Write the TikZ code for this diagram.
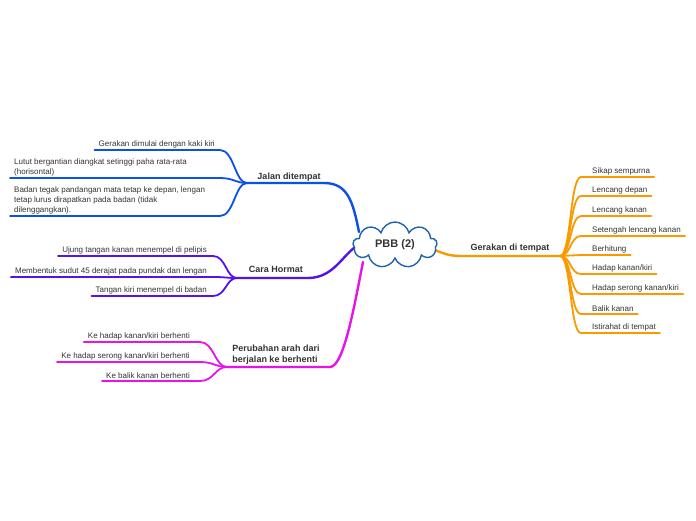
\documentclass[tikz,border=0pt]{standalone}
\usepackage{fontspec}
\setmainfont{Liberation Sans}
\usetikzlibrary{shapes.symbols,positioning}

\definecolor{teks}{HTML}{333333}
\definecolor{awan}{HTML}{1F63AA}
\definecolor{biru}{HTML}{0C50EA}
\definecolor{ungu}{HTML}{5612EC}
\definecolor{magenta}{HTML}{E614E6}
\definecolor{oranye}{HTML}{FA9A00}

\begin{document}
\begin{tikzpicture}[
    x=1pt, y=-1pt,
    pusat/.style={cloud, cloud puffs=9, aspect=2, draw=awan, line width=1.4pt, fill=white,
                  minimum width=84pt, minimum height=46pt, inner sep=0pt,
                  font=\bfseries\fontsize{11}{13}\selectfont, text=teks},
    topik/.style={font=\bfseries\fontsize{9}{11}\selectfont, text=teks, inner sep=0pt, align=left},
    butir/.style={font=\fontsize{8}{9.8}\selectfont, text=teks, inner xsep=4pt, inner ysep=2pt, align=left},
    cabang/.style={line width=2.4pt, line cap=round},
    ranting/.style={line width=1.8pt, line cap=round}
]
\useasboundingbox[fill=white] (0,0) rectangle (696,520);

% ---------- Jalan ditempat ----------
\coordinate (jhub) at (247,183);
\coordinate (jend) at (324,183);
\coordinate (jbend) at (220,183);
\coordinate (jawan) at (359,232);
\node[topik] (jalan) at (289,177.5) {Jalan ditempat};
\node[butir, anchor=south east] (j1) at (219,150) {Gerakan dimulai dengan kaki kiri};
\node[butir, anchor=south west] (j2) at (10,178) {Lutut bergantian diangkat setinggi paha rata-rata\\(horisontal)};
\node[butir, anchor=south west] (j3) at (10,216) {Badan tegak pandangan mata tetap ke depan, lengan\\tetap lurus dirapatkan pada badan (tidak\\dilenggangkan).};
\draw[cabang, biru] (jhub) -- (jend) .. controls +(24,0) and +(-6,-30) .. (jawan);
\draw[ranting, biru] (j1.south west) -- (jbend |- j1.south west) .. controls +(14,0) and +(-12,0) .. (jhub);
\draw[ranting, biru] (j2.south west) -- (jbend |- j2.south west) .. controls +(14,0) and +(-12,0) .. (jhub);
\draw[ranting, biru] (j3.south west) -- (jbend |- j3.south west) .. controls +(14,0) and +(-12,0) .. (jhub);

% ---------- Cara Hormat ----------
\coordinate (chub) at (237,278);
\coordinate (cend) at (308,278);
\coordinate (cbend) at (213,278);
\coordinate (cawan) at (357,246);
\node[topik] (hormat) at (276,269) {Cara Hormat};
\node[butir, anchor=south east] (c1) at (211,256) {Ujung tangan kanan menempel di pelipis};
\node[butir, anchor=south east] (c2) at (211,277) {Membentuk sudut 45 derajat pada pundak dan lengan};
\node[butir, anchor=south east] (c3) at (211,296) {Tangan kiri menempel di badan};
\draw[cabang, ungu] (chub) -- (cend) .. controls +(26,0) and +(-14,8) .. (cawan);
\draw[ranting, ungu] (c1.south west) -- (cbend |- c1.south west) .. controls +(13,0) and +(-11,0) .. (chub);
\draw[ranting, ungu] (c2.south west) -- (cbend |- c2.south west) .. controls +(13,0) and +(-11,0) .. (chub);
\draw[ranting, ungu] (c3.south west) -- (cbend |- c3.south west) .. controls +(13,0) and +(-11,0) .. (chub);

% ---------- Perubahan arah ----------
\coordinate (phub) at (227,367);
\coordinate (pend) at (330,367);
\coordinate (pbend) at (200,367);
\coordinate (pawan) at (363,262);
\node[topik] (ubah) at (276,355) {Perubahan arah dari\\berjalan ke berhenti};
\node[butir, anchor=south east] (p1) at (194,342) {Ke hadap kanan/kiri berhenti};
\node[butir, anchor=south east] (p2) at (194,362) {Ke hadap serong kanan/kiri berhenti};
\node[butir, anchor=south east] (p3) at (194,381) {Ke balik kanan berhenti};
\draw[cabang, magenta] (phub) -- (pend) .. controls +(14,0) and +(-8,40) .. (pawan);
\draw[ranting, magenta] (p1.south west) -- (pbend |- p1.south west) .. controls +(14,0) and +(-12,0) .. (phub);
\draw[ranting, magenta] (p2.south west) -- (pbend |- p2.south west) .. controls +(14,0) and +(-12,0) .. (phub);
\draw[ranting, magenta] (p3.south west) -- (pbend |- p3.south west) .. controls +(14,0) and +(-12,0) .. (phub);

% ---------- Gerakan di tempat ----------
\coordinate (ghub) at (560,256);
\coordinate (gstart) at (465,256);
\coordinate (gbend) at (581,256);
\coordinate (gawan) at (432,249);
\node[topik] (gerak) at (510,248) {Gerakan di tempat};
\node[butir, anchor=south west] (g1) at (588,177) {Sikap sempurna};
\node[butir, anchor=south west] (g2) at (588,196) {Lencang depan};
\node[butir, anchor=south west] (g3) at (588,216) {Lencang kanan};
\node[butir, anchor=south west] (g4) at (588,236) {Setengah lencang kanan};
\node[butir, anchor=south west] (g5) at (588,255) {Berhitung};
\node[butir, anchor=south west] (g6) at (588,274) {Hadap kanan/kiri};
\node[butir, anchor=south west] (g7) at (588,294) {Hadap serong kanan/kiri};
\node[butir, anchor=south west] (g8) at (588,314) {Balik kanan};
\node[butir, anchor=south west] (g9) at (588,333) {Istirahat di tempat};
\draw[cabang, oranye] (gawan) .. controls +(16,6) and +(-16,0) .. (gstart) -- (ghub);
\draw[ranting, oranye] (ghub) .. controls +(11,0) and +(-11,0) .. (gbend |- g1.south west) -- (g1.south east);
\draw[ranting, oranye] (ghub) .. controls +(11,0) and +(-11,0) .. (gbend |- g2.south west) -- (g2.south east);
\draw[ranting, oranye] (ghub) .. controls +(11,0) and +(-11,0) .. (gbend |- g3.south west) -- (g3.south east);
\draw[ranting, oranye] (ghub) .. controls +(11,0) and +(-11,0) .. (gbend |- g4.south west) -- (g4.south east);
\draw[ranting, oranye] (ghub) .. controls +(11,0) and +(-11,0) .. (gbend |- g5.south west) -- (g5.south east);
\draw[ranting, oranye] (ghub) .. controls +(11,0) and +(-11,0) .. (gbend |- g6.south west) -- (g6.south east);
\draw[ranting, oranye] (ghub) .. controls +(11,0) and +(-11,0) .. (gbend |- g7.south west) -- (g7.south east);
\draw[ranting, oranye] (ghub) .. controls +(11,0) and +(-11,0) .. (gbend |- g8.south west) -- (g8.south east);
\draw[ranting, oranye] (ghub) .. controls +(11,0) and +(-11,0) .. (gbend |- g9.south west) -- (g9.south east);

% ---------- pusat ----------
\node[pusat] (pbb) at (395,245) {PBB (2)};
\end{tikzpicture}
\end{document}
